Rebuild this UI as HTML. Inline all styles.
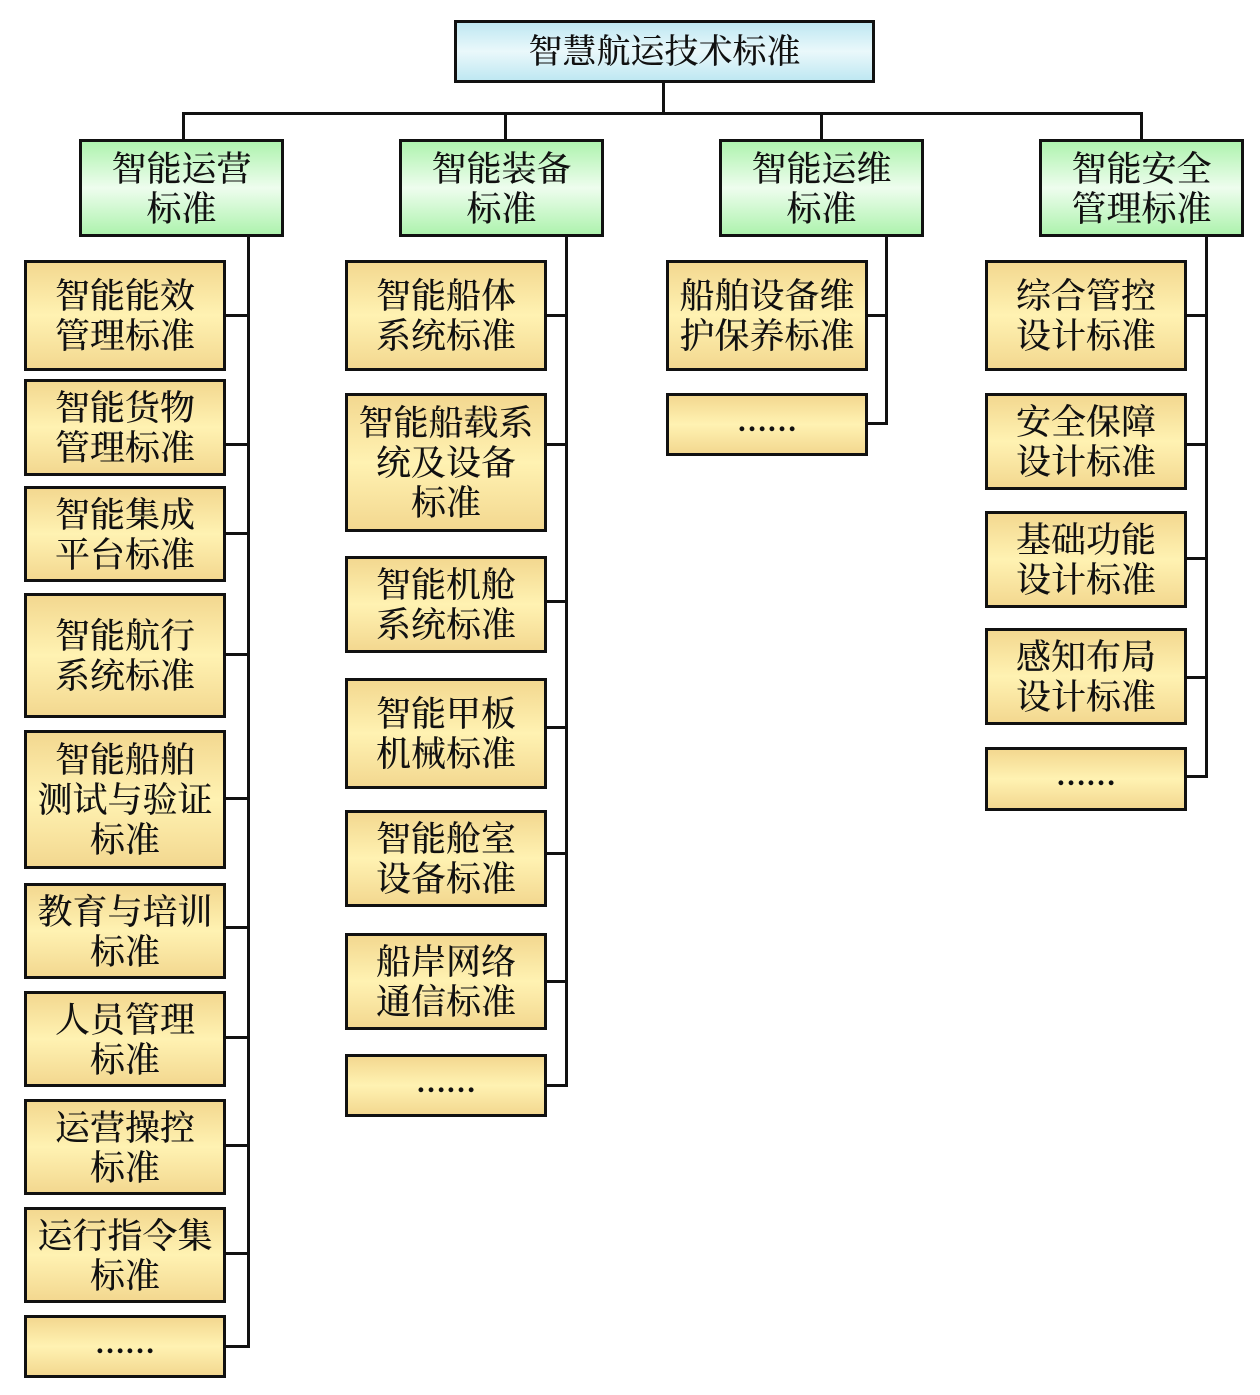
<!DOCTYPE html>
<html><head><meta charset="utf-8"><style>
body{margin:0;width:1260px;height:1395px;background:#fff;position:relative;overflow:hidden;font-family:"Liberation Serif","Noto Serif CJK SC",serif;}
.b{position:absolute;box-sizing:border-box;border:3px solid #111;display:flex;align-items:center;justify-content:center;text-align:center;color:#111;font-size:35px;line-height:40px;padding-top:3px;font-weight:500;}
.r{background:linear-gradient(#bfe8f2,#eaf8fb 50%,#bfe8f2);font-size:34px;}
.g{background:linear-gradient(#aef3ae,#eefdee 50%,#aef3ae);}
.y{background:linear-gradient(#f3d890,#fff2b2 50%,#f3d890);}
.e{font-weight:bold;font-size:30px;padding-top:0;padding-bottom:6px;}
.l{position:absolute;background:#111;}
</style></head><body>
<div class="b r" style="left:454px;top:20px;width:421px;height:63px">智慧航运技术标准</div>
<div class="l" style="left:662px;top:82px;width:3px;height:32px"></div>
<div class="l" style="left:182px;top:112px;width:961px;height:3px"></div>
<div class="l" style="left:182px;top:112px;width:3px;height:28px"></div>
<div class="l" style="left:504px;top:112px;width:3px;height:28px"></div>
<div class="l" style="left:820px;top:112px;width:3px;height:28px"></div>
<div class="l" style="left:1140px;top:112px;width:3px;height:28px"></div>
<div class="b g" style="left:79px;top:139px;width:205px;height:98px">智能运营<br>标准</div>
<div class="b g" style="left:399px;top:139px;width:205px;height:98px">智能装备<br>标准</div>
<div class="b g" style="left:719px;top:139px;width:205px;height:98px">智能运维<br>标准</div>
<div class="b g" style="left:1039px;top:139px;width:205px;height:98px">智能安全<br>管理标准</div>
<div class="l" style="left:247px;top:236px;width:3px;height:1112px"></div>
<div class="l" style="left:565px;top:236px;width:3px;height:851px"></div>
<div class="l" style="left:885px;top:236px;width:3px;height:189px"></div>
<div class="l" style="left:1205px;top:236px;width:3px;height:542px"></div>
<div class="b y" style="left:24px;top:260px;width:202px;height:111px">智能能效<br>管理标准</div>
<div class="b y" style="left:24px;top:379px;width:202px;height:97px">智能货物<br>管理标准</div>
<div class="b y" style="left:24px;top:486px;width:202px;height:96px">智能集成<br>平台标准</div>
<div class="b y" style="left:24px;top:593px;width:202px;height:125px">智能航行<br>系统标准</div>
<div class="b y" style="left:24px;top:730px;width:202px;height:139px">智能船舶<br>测试与验证<br>标准</div>
<div class="b y" style="left:24px;top:883px;width:202px;height:96px">教育与培训<br>标准</div>
<div class="b y" style="left:24px;top:991px;width:202px;height:96px">人员管理<br>标准</div>
<div class="b y" style="left:24px;top:1099px;width:202px;height:96px">运营操控<br>标准</div>
<div class="b y" style="left:24px;top:1207px;width:202px;height:96px">运行指令集<br>标准</div>
<div class="b y e" style="left:24px;top:1315px;width:202px;height:63px">……</div>
<div class="l" style="left:225px;top:314px;width:24px;height:3px"></div>
<div class="l" style="left:225px;top:443px;width:24px;height:3px"></div>
<div class="l" style="left:225px;top:532px;width:24px;height:3px"></div>
<div class="l" style="left:225px;top:653px;width:24px;height:3px"></div>
<div class="l" style="left:225px;top:797px;width:24px;height:3px"></div>
<div class="l" style="left:225px;top:926px;width:24px;height:3px"></div>
<div class="l" style="left:225px;top:1036px;width:24px;height:3px"></div>
<div class="l" style="left:225px;top:1144px;width:24px;height:3px"></div>
<div class="l" style="left:225px;top:1252px;width:24px;height:3px"></div>
<div class="l" style="left:225px;top:1345px;width:24px;height:3px"></div>
<div class="b y" style="left:345px;top:260px;width:202px;height:111px">智能船体<br>系统标准</div>
<div class="b y" style="left:345px;top:393px;width:202px;height:139px">智能船载系<br>统及设备<br>标准</div>
<div class="b y" style="left:345px;top:556px;width:202px;height:97px">智能机舱<br>系统标准</div>
<div class="b y" style="left:345px;top:678px;width:202px;height:111px">智能甲板<br>机械标准</div>
<div class="b y" style="left:345px;top:810px;width:202px;height:97px">智能舱室<br>设备标准</div>
<div class="b y" style="left:345px;top:933px;width:202px;height:97px">船岸网络<br>通信标准</div>
<div class="b y e" style="left:345px;top:1054px;width:202px;height:63px">……</div>
<div class="l" style="left:546px;top:314px;width:21px;height:3px"></div>
<div class="l" style="left:546px;top:443px;width:21px;height:3px"></div>
<div class="l" style="left:546px;top:600px;width:21px;height:3px"></div>
<div class="l" style="left:546px;top:726px;width:21px;height:3px"></div>
<div class="l" style="left:546px;top:852px;width:21px;height:3px"></div>
<div class="l" style="left:546px;top:980px;width:21px;height:3px"></div>
<div class="l" style="left:546px;top:1084px;width:21px;height:3px"></div>
<div class="b y" style="left:666px;top:260px;width:202px;height:111px">船舶设备维<br>护保养标准</div>
<div class="b y e" style="left:666px;top:393px;width:202px;height:63px">……</div>
<div class="l" style="left:867px;top:314px;width:20px;height:3px"></div>
<div class="l" style="left:867px;top:422px;width:20px;height:3px"></div>
<div class="b y" style="left:985px;top:260px;width:202px;height:111px">综合管控<br>设计标准</div>
<div class="b y" style="left:985px;top:393px;width:202px;height:97px">安全保障<br>设计标准</div>
<div class="b y" style="left:985px;top:511px;width:202px;height:97px">基础功能<br>设计标准</div>
<div class="b y" style="left:985px;top:628px;width:202px;height:97px">感知布局<br>设计标准</div>
<div class="b y e" style="left:985px;top:747px;width:202px;height:64px">……</div>
<div class="l" style="left:1186px;top:314px;width:21px;height:3px"></div>
<div class="l" style="left:1186px;top:443px;width:21px;height:3px"></div>
<div class="l" style="left:1186px;top:557px;width:21px;height:3px"></div>
<div class="l" style="left:1186px;top:676px;width:21px;height:3px"></div>
<div class="l" style="left:1186px;top:775px;width:21px;height:3px"></div>
</body></html>
